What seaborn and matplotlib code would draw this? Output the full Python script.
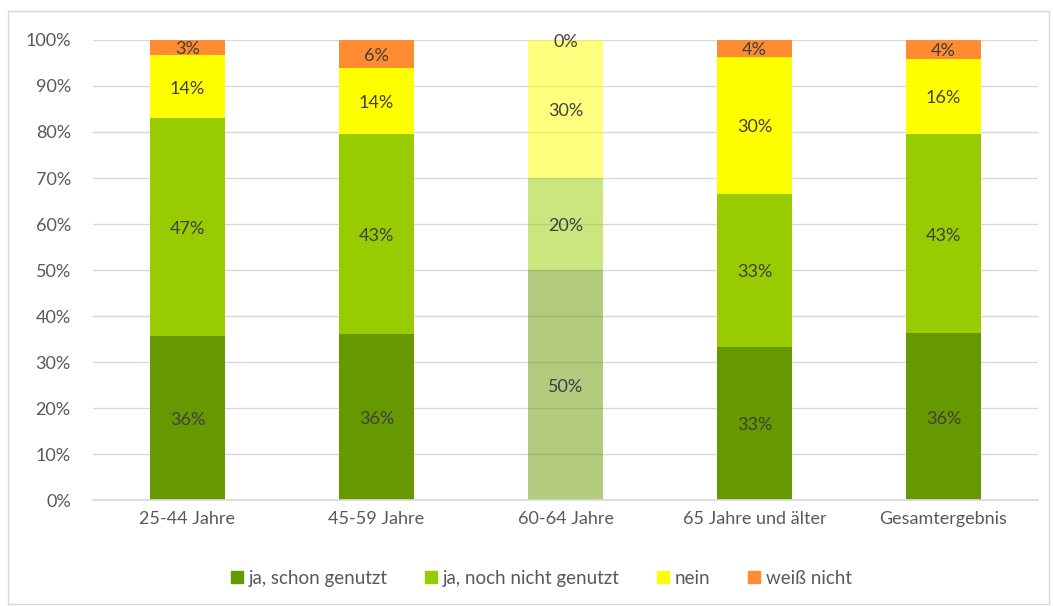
import numpy as np
import pandas as pd
import matplotlib
matplotlib.use("Agg")
import matplotlib.pyplot as plt
from matplotlib.patches import Rectangle
import seaborn as sns

categories = ["25-44 Jahre", "45-59 Jahre", "60-64 Jahre", "65 Jahre und älter", "Gesamtergebnis"]
series_names = ["ja, schon genutzt", "ja, noch nicht genutzt", "nein", "weiß nicht"]
schon_genutzt = [35.7, 36.1, 50.0, 33.3, 36.2]
noch_nicht_genutzt = [47.3, 43.4, 20.0, 33.3, 43.4]
nein = [13.7, 14.4, 30.0, 29.7, 16.3]
weiss_nicht = [3.3, 6.1, 0.0, 3.7, 4.1]
colors = ["#669900", "#99CC00", "#FFFF00", "#FF8B33"]
faded_category = "60-64 Jahre"

sns.set_theme(style="white")
plt.rcParams["font.family"] = ["Lato", "DejaVu Sans"]

fig = plt.figure(figsize=(10.53, 6.06), dpi=100)
ax = fig.add_axes([0.0883, 0.1749, 0.8975, 0.7591])

# outer chart frame
fig.patches.append(Rectangle((0.008, 0.004), 0.988, 0.978, transform=fig.transFigure,
                             fill=False, edgecolor="#D9D9D9", linewidth=1.0))

series = [schon_genutzt, noch_nicht_genutzt, nein, weiss_nicht]
bottom = np.zeros(len(categories))
fade_idx = categories.index(faded_category)
for name, vals, col in zip(series_names, series, colors):
    df = pd.DataFrame({"Altersgruppe": categories, "Anteil": vals})
    n_before = len(ax.patches)
    sns.barplot(data=df, x="Altersgruppe", y="Anteil", color=col, bottom=bottom,
                width=0.40, ax=ax, saturation=1, linewidth=0)
    new = ax.patches[n_before:]
    for i, p in enumerate(new):
        if i == fade_idx:
            p.set_alpha(0.5)
    for i, v in enumerate(vals):
        ax.text(i, bottom[i] + v / 2 - 0.4, f"{round(v):d}%", ha="center", va="center",
                fontsize=13, color="#404040")
    bottom = bottom + np.array(vals)

ax.set_ylim(0, 100)
ax.set_xlim(-0.5, len(categories) - 0.5)
ax.set_yticks(np.arange(0, 101, 10))
ax.set_yticklabels([f"{t}%" for t in range(0, 101, 10)])
ax.yaxis.grid(True, color="#D9D9D9", linewidth=1.0)
ax.set_axisbelow(True)
for s in ["top", "right", "left"]:
    ax.spines[s].set_visible(False)
ax.spines["bottom"].set_color("#D9D9D9")
ax.tick_params(axis="both", length=0, labelsize=13, colors="#595959", pad=8)
ax.tick_params(axis="y", pad=16)
ax.set_xlabel("")
ax.set_ylabel("")

handles = [Rectangle((0, 0), 1, 1, color=c) for c in colors]
fig.legend(handles, series_names, loc="center", bbox_to_anchor=(0.514, 0.046), ncol=4,
           frameon=False, fontsize=13.5, handlelength=0.65, handleheight=0.65,
           handletextpad=0.3, columnspacing=2.0, labelcolor="#595959")

fig.savefig("out.png", dpi=100)
